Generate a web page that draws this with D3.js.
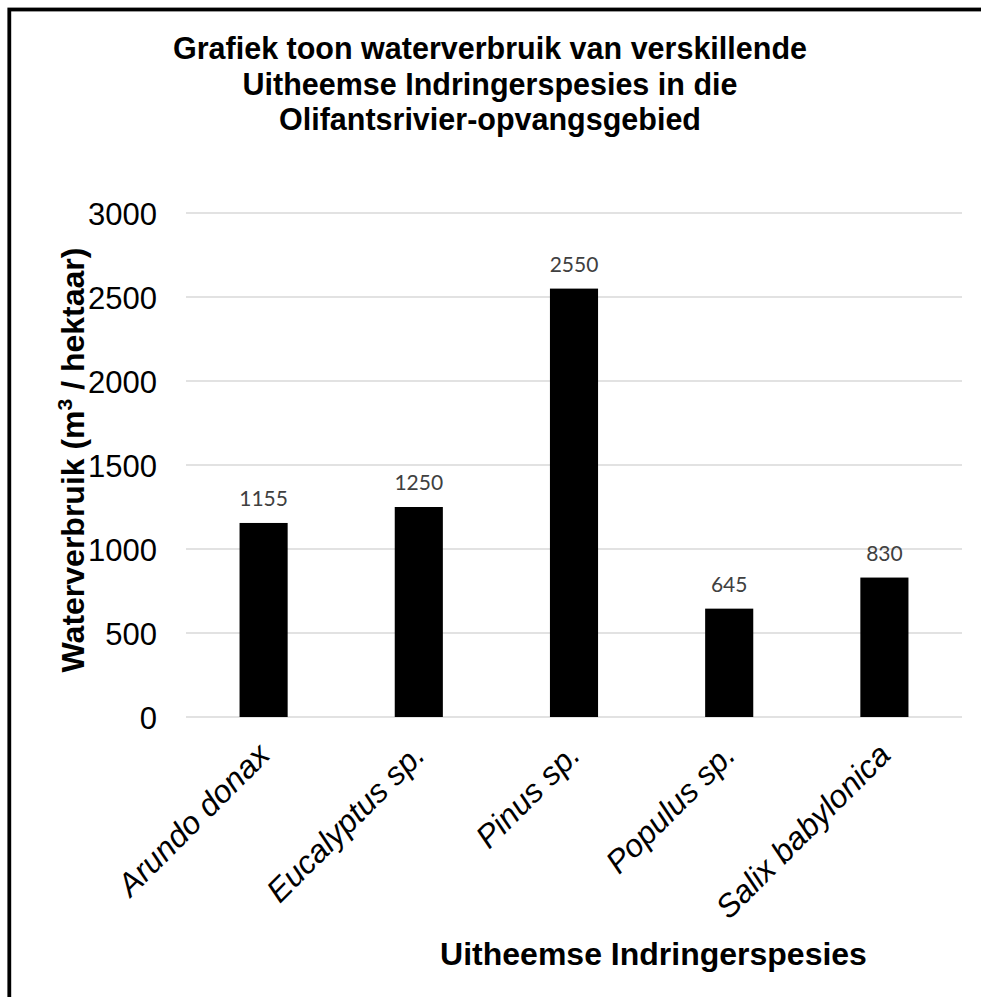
<!DOCTYPE html>
<html>
<head>
<meta charset="utf-8">
<script src="https://cdn.jsdelivr.net/npm/d3@7"></script>
<style>
html,body{margin:0;padding:0;background:#fff;}
svg{display:block;}
</style>
</head>
<body>
<script>
const categories = ["Arundo donax", "Eucalyptus sp.", "Pinus sp.", "Populus sp.", "Salix babylonica"];
const values = [1155, 1250, 2550, 645, 830];
const yTicks = [0, 500, 1000, 1500, 2000, 2500, 3000];
const titleLines = ["Grafiek toon waterverbruik van verskillende", "Uitheemse Indringerspesies in die", "Olifantsrivier-opvangsgebied"];
const xTitle = "Uitheemse Indringerspesies";

const W = 981, H = 997;
const svg = d3.select("body").append("svg").attr("width", W).attr("height", H);

// outer frame (cropped on the right and bottom)
svg.append("rect").attr("x", 9.3).attr("y", 9.5).attr("width", 1100).attr("height", 1100)
  .attr("fill", "#fff").attr("stroke", "#000").attr("stroke-width", 3.8);

const plot = {left: 186, right: 962, top: 213, bottom: 717};

const x = d3.scaleBand().domain(categories).range([plot.left, plot.right])
  .paddingInner(0.69).paddingOuter(0.345);
const y = d3.scaleLinear().domain([0, 3000]).range([plot.bottom, plot.top]);

// gridlines
svg.append("g").selectAll("line").data(yTicks).join("line")
  .attr("x1", plot.left).attr("x2", plot.right)
  .attr("y1", d => y(d)).attr("y2", d => y(d))
  .attr("stroke", "#d9d9d9").attr("stroke-width", 1.5);

// y axis tick labels
const yAxis = d3.axisLeft(y).tickValues(yTicks).tickFormat(d3.format("d")).tickSize(0).tickPadding(0);
const gy = svg.append("g").attr("transform", `translate(157,0)`).call(yAxis);
gy.select(".domain").remove();
gy.selectAll("text").attr("font-family", "Liberation Sans, Arial, sans-serif")
  .attr("font-size", 31).attr("fill", "#000").attr("dy", "0.36em");

// bars
svg.append("g").selectAll("rect").data(values).join("rect")
  .attr("x", (d, i) => x(categories[i]))
  .attr("y", d => y(d))
  .attr("width", x.bandwidth())
  .attr("height", d => y(0) - y(d))
  .attr("fill", "#000");

// data labels
svg.append("g").selectAll("text").data(values).join("text")
  .attr("x", (d, i) => x(categories[i]) + x.bandwidth() / 2)
  .attr("y", d => y(d) - 17)
  .attr("text-anchor", "middle")
  .attr("font-family", "Lato, 'Open Sans', sans-serif")
  .attr("font-size", 21)
  .attr("fill", "#404040")
  .text(d => d);

// x labels rotated
svg.append("g").selectAll("text").data(categories).join("text")
  .attr("transform", d => `translate(${x(d) + x.bandwidth() / 2 + 8},757) rotate(-45)`)
  .attr("text-anchor", "end")
  .attr("font-family", "Liberation Sans, Arial, sans-serif")
  .attr("font-style", "italic")
  .attr("font-size", 32)
  .attr("fill", "#000")
  .text(d => d);

// title
svg.append("g").selectAll("text").data(titleLines).join("text")
  .attr("x", 490).attr("y", (d, i) => 59 + i * 35.5)
  .attr("text-anchor", "middle")
  .attr("font-family", "Liberation Sans, Arial, sans-serif")
  .attr("font-weight", "bold").attr("font-size", 30.5)
  .attr("fill", "#000")
  .text(d => d);

// x axis title
svg.append("text").attr("x", 653.5).attr("y", 965)
  .attr("text-anchor", "middle")
  .attr("font-family", "Liberation Sans, Arial, sans-serif")
  .attr("font-weight", "bold").attr("font-size", 32)
  .attr("fill", "#000").text(xTitle);

// y axis title
const yt = svg.append("text").attr("transform", "translate(84,460) rotate(-90)")
  .attr("text-anchor", "middle")
  .attr("font-family", "Liberation Sans, Arial, sans-serif")
  .attr("font-weight", "bold").attr("font-size", 32)
  .attr("fill", "#000");
yt.append("tspan").text("Waterverbruik (m");
yt.append("tspan").attr("font-size", 21).attr("dy", -12).text("3");
yt.append("tspan").attr("dy", 12).text(" / hektaar)");
</script>
</body>
</html>
